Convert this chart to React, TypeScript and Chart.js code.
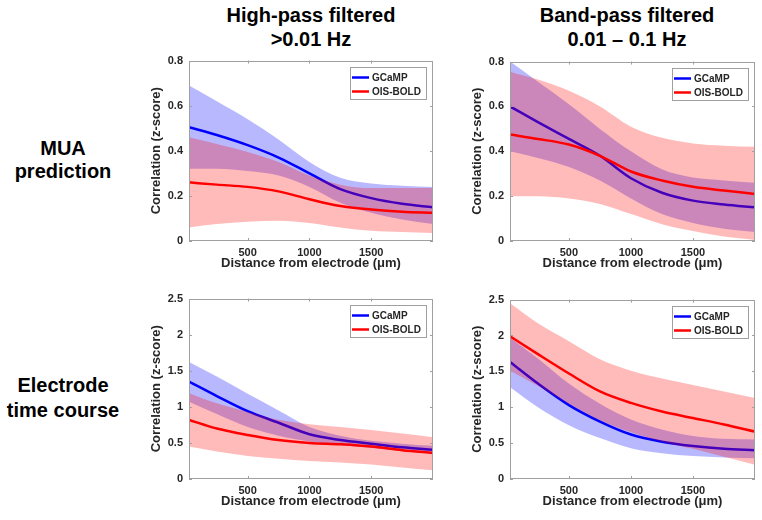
import React, { useEffect, useRef } from "react";
import { Chart, registerables } from "chart.js";

Chart.register(...registerables);

// ---------------- data ----------------
const distances = [25, 250, 500, 750, 1000, 1250, 1500, 1750, 2000];
const xTicks = [500, 1000, 1500];
const muaYTicks = [0, 0.2, 0.4, 0.6, 0.8];
const electrodeYTicks = [0, 0.5, 1, 1.5, 2, 2.5];
const seriesNames = ["GCaMP", "OIS-BOLD"];
const columnTitles = [["High-pass filtered", ">0.01 Hz"], ["Band-pass filtered", "0.01 \u2013 0.1 Hz"]];
const rowLabels = [["MUA", "prediction"], ["Electrode", "time course"]];
const yTitle = "Correlation (z-score)";
const xTitle = "Distance from electrode (\u03bcm)";

// MUA prediction, high-pass
const hpMuaGcamp = [0.505, 0.47, 0.425, 0.37, 0.3, 0.23, 0.19, 0.165, 0.15];
const hpMuaGcampUpper = [0.69, 0.62, 0.54, 0.45, 0.35, 0.28, 0.255, 0.245, 0.24];
const hpMuaGcampLower = [0.32, 0.32, 0.31, 0.29, 0.24, 0.17, 0.125, 0.095, 0.075];
const hpMuaBold = [0.26, 0.25, 0.24, 0.22, 0.185, 0.155, 0.14, 0.13, 0.125];
const hpMuaBoldUpper = [0.46, 0.43, 0.395, 0.35, 0.29, 0.25, 0.235, 0.235, 0.235];
const hpMuaBoldLower = [0.06, 0.075, 0.085, 0.09, 0.08, 0.06, 0.045, 0.04, 0.035];

// MUA prediction, band-pass
const bpMuaGcamp = [0.6, 0.53, 0.455, 0.38, 0.28, 0.215, 0.18, 0.163, 0.15];
const bpMuaGcampUpper = [0.8, 0.71, 0.61, 0.5, 0.4, 0.32, 0.283, 0.27, 0.26];
const bpMuaGcampLower = [0.4, 0.37, 0.33, 0.27, 0.19, 0.12, 0.08, 0.055, 0.04];
const bpMuaBold = [0.475, 0.455, 0.43, 0.38, 0.31, 0.27, 0.242, 0.225, 0.21];
const bpMuaBoldUpper = [0.755, 0.72, 0.67, 0.6, 0.51, 0.46, 0.435, 0.425, 0.42];
const bpMuaBoldLower = [0.2, 0.2, 0.19, 0.165, 0.12, 0.075, 0.045, 0.02, 0.005];

// Electrode time course, high-pass
const hpElGcamp = [1.35, 1.15, 0.94, 0.78, 0.62, 0.54, 0.49, 0.44, 0.405];
const hpElGcampUpper = [1.62, 1.42, 1.18, 0.95, 0.72, 0.6, 0.53, 0.49, 0.46];
const hpElGcampLower = [1.07, 0.9, 0.72, 0.6, 0.52, 0.47, 0.43, 0.39, 0.35];
const hpElBold = [0.82, 0.7, 0.61, 0.54, 0.5, 0.48, 0.45, 0.4, 0.36];
const hpElBoldUpper = [1.19, 1.05, 0.93, 0.82, 0.76, 0.72, 0.68, 0.63, 0.58];
const hpElBoldLower = [0.45, 0.38, 0.32, 0.28, 0.25, 0.23, 0.2, 0.16, 0.12];

// Electrode time course, band-pass
const bpElGcamp = [1.63, 1.33, 1.03, 0.8, 0.62, 0.52, 0.46, 0.42, 0.4];
const bpElGcampUpper = [1.97, 1.68, 1.33, 1.05, 0.83, 0.69, 0.6, 0.56, 0.55];
const bpElGcampLower = [1.28, 1.0, 0.75, 0.57, 0.43, 0.36, 0.32, 0.3, 0.29];
const bpElBold = [1.99, 1.74, 1.47, 1.22, 1.06, 0.94, 0.85, 0.76, 0.66];
const bpElBoldUpper = [2.45, 2.17, 1.92, 1.67, 1.51, 1.4, 1.31, 1.22, 1.13];
const bpElBoldLower = [1.51, 1.3, 1.05, 0.82, 0.65, 0.52, 0.42, 0.31, 0.2];

// ---------------- style ----------------
const FONT = "'Liberation Sans', Arial, Helvetica, sans-serif";
const BLUE = "#0000ff";
const RED = "#ff0000";
const BLUE_BAND = "rgba(0,0,255,0.28)";
const RED_BAND = "rgba(255,0,0,0.27)";
const AXIS_GRAY = "#a0a0a0";
const LABEL_COLOR = "#262626";

const pts = (arr: number[]) => distances.map((x, i) => ({ x, y: arr[i] }));

const axisBoxPlugin = {
  id: "axisBox",
  afterDatasetsDraw(chart: any) {
    const { ctx, chartArea } = chart;
    const { left, right, top, bottom } = chartArea;
    const xs = chart.scales.x;
    const ys = chart.scales.y;
    ctx.save();
    ctx.strokeStyle = AXIS_GRAY;
    ctx.lineWidth = 1;
    ctx.strokeRect(Math.round(left) + 0.5, Math.round(top) + 0.5, Math.round(right - left) - 1, Math.round(bottom - top) - 1);
    ctx.beginPath();
    xs.ticks.forEach((t: any) => {
      const px = Math.round(xs.getPixelForValue(t.value)) + 0.5;
      ctx.moveTo(px, bottom);
      ctx.lineTo(px, bottom - 3);
      ctx.moveTo(px, top);
      ctx.lineTo(px, top + 3);
    });
    ys.ticks.forEach((t: any) => {
      const py = Math.round(ys.getPixelForValue(t.value)) + 0.5;
      ctx.moveTo(left, py);
      ctx.lineTo(left + 3, py);
      ctx.moveTo(right, py);
      ctx.lineTo(right - 3, py);
    });
    ctx.stroke();
    ctx.restore();
  },
};

const boxLegendPlugin = {
  id: "boxLegend",
  afterDraw(chart: any) {
    const { ctx, chartArea } = chart;
    const w = 76;
    const h = 32;
    const bx = Math.round(chartArea.right - 7 - w);
    const by = Math.round(chartArea.top + 6);
    ctx.save();
    ctx.fillStyle = "#ffffff";
    ctx.fillRect(bx, by, w, h);
    ctx.strokeStyle = AXIS_GRAY;
    ctx.lineWidth = 1;
    ctx.strokeRect(bx + 0.5, by + 0.5, w, h);
    const items = chart.data.datasets.filter((d: any) => seriesNames.includes(d.label));
    items.forEach((d: any, i: number) => {
      const cy = by + 10.5 + i * 14;
      ctx.strokeStyle = d.borderColor;
      ctx.lineWidth = 2.5;
      ctx.beginPath();
      ctx.moveTo(bx + 2, cy);
      ctx.lineTo(bx + 19, cy);
      ctx.stroke();
      ctx.fillStyle = LABEL_COLOR;
      ctx.font = `bold 10px ${FONT}`;
      ctx.textBaseline = "middle";
      ctx.textAlign = "left";
      ctx.fillText(d.label, bx + 22, cy + 0.5);
    });
    ctx.restore();
  },
};

type PanelProps = {
  plotLeft: number;
  plotTop: number;
  plotRight: number;
  plotBottom: number;
  yMax: number;
  yTicks: number[];
  g: number[];
  gU: number[];
  gL: number[];
  b: number[];
  bU: number[];
  bL: number[];
};

function Panel(p: PanelProps) {
  const ref = useRef<HTMLCanvasElement>(null);
  const padTop = 10;
  const yAxisW = 40;
  const xAxisH = 30;
  const padRight = 6;
  const left = p.plotLeft - yAxisW;
  const top = p.plotTop - padTop;
  const width = p.plotRight - left + padRight;
  const height = p.plotBottom + xAxisH - top;

  useEffect(() => {
    const line = { pointRadius: 0, cubicInterpolationMode: "monotone" as const };
    const chart = new Chart(ref.current!, {
      type: "line",
      data: {
        datasets: [
          { label: "GCaMP upper", data: pts(p.gU), ...line, borderWidth: 0, borderColor: "rgba(0,0,0,0)", backgroundColor: BLUE_BAND, fill: "+1", order: 4 },
          { label: "GCaMP lower", data: pts(p.gL), ...line, borderWidth: 0, borderColor: "rgba(0,0,0,0)", fill: false, order: 4 },
          { label: "GCaMP", data: pts(p.g), ...line, borderWidth: 2.5, borderColor: BLUE, fill: false, order: 3 },
          { label: "OIS-BOLD upper", data: pts(p.bU), ...line, borderWidth: 0, borderColor: "rgba(0,0,0,0)", backgroundColor: RED_BAND, fill: "+1", order: 2 },
          { label: "OIS-BOLD lower", data: pts(p.bL), ...line, borderWidth: 0, borderColor: "rgba(0,0,0,0)", fill: false, order: 2 },
          { label: "OIS-BOLD", data: pts(p.b), ...line, borderWidth: 2.5, borderColor: RED, fill: false, order: 1 },
        ],
      },
      options: {
        responsive: false,
        animation: false,
        events: [],
        layout: { padding: { top: padTop, right: padRight, left: 0, bottom: 0 } },
        plugins: { legend: { display: false }, tooltip: { enabled: false } },
        scales: {
          x: {
            type: "linear",
            min: 25,
            max: 2000,
            afterBuildTicks: (s: any) => {
              s.ticks = xTicks.map((v) => ({ value: v }));
            },
            afterFit: (s: any) => {
              s.height = xAxisH;
            },
            grid: { display: false, drawTicks: false },
            border: { display: false },
            ticks: {
              autoSkip: false,
              maxRotation: 0,
              padding: 5,
              color: LABEL_COLOR,
              font: { family: FONT, size: 11, weight: "bold" },
              callback: (v: any) => String(v),
            },
            title: {
              display: true,
              text: xTitle,
              color: LABEL_COLOR,
              padding: 0,
              font: { family: FONT, size: 13, weight: "bold" },
            },
          },
          y: {
            type: "linear",
            min: 0,
            max: p.yMax,
            afterBuildTicks: (s: any) => {
              s.ticks = p.yTicks.map((v) => ({ value: v }));
            },
            afterFit: (s: any) => {
              s.width = yAxisW;
            },
            grid: { display: false, drawTicks: false },
            border: { display: false },
            ticks: {
              padding: 6,
              color: LABEL_COLOR,
              font: { family: FONT, size: 11, weight: "bold" },
              callback: (v: any) => String(v),
            },
            title: {
              display: true,
              text: yTitle,
              color: LABEL_COLOR,
              padding: 0,
              font: { family: FONT, size: 13, weight: "bold" },
            },
          },
        },
      },
      plugins: [axisBoxPlugin, boxLegendPlugin],
    } as any);
    return () => chart.destroy();
  }, []);

  return (
    <canvas
      ref={ref}
      width={width}
      height={height}
      style={{ position: "absolute", left, top, width, height }}
    />
  );
}

function TextLine({ text, cx, baseline, size }: { text: string; cx: number; baseline: number; size: number }) {
  return (
    <div
      style={{
        position: "absolute",
        left: cx - 150,
        width: 300,
        top: baseline - 0.8465 * size,
        fontFamily: FONT,
        fontWeight: "bold",
        fontSize: size,
        lineHeight: `${size}px`,
        textAlign: "center",
        whiteSpace: "nowrap",
        color: "#000",
      }}
    >
      {text}
    </div>
  );
}

export default function App() {
  return (
    <div style={{ position: "absolute", left: 0, top: 0, width: 762, height: 520, background: "#fff", overflow: "hidden" }}>
      <TextLine text={columnTitles[0][0]} cx={311} baseline={22} size={20} />
      <TextLine text={columnTitles[0][1]} cx={311} baseline={45.5} size={20} />
      <TextLine text={columnTitles[1][0]} cx={627} baseline={22} size={20} />
      <TextLine text={columnTitles[1][1]} cx={627} baseline={45.5} size={20} />
      <TextLine text={rowLabels[0][0]} cx={63} baseline={155} size={20} />
      <TextLine text={rowLabels[0][1]} cx={63} baseline={178} size={20} />
      <TextLine text={rowLabels[1][0]} cx={63} baseline={392} size={20} />
      <TextLine text={rowLabels[1][1]} cx={63} baseline={417} size={20} />
      <Panel plotLeft={189} plotTop={58} plotRight={433} plotBottom={241} yMax={0.8} yTicks={muaYTicks}
        g={hpMuaGcamp} gU={hpMuaGcampUpper} gL={hpMuaGcampLower} b={hpMuaBold} bU={hpMuaBoldUpper} bL={hpMuaBoldLower} />
      <Panel plotLeft={510} plotTop={59} plotRight={755} plotBottom={241} yMax={0.8} yTicks={muaYTicks}
        g={bpMuaGcamp} gU={bpMuaGcampUpper} gL={bpMuaGcampLower} b={bpMuaBold} bU={bpMuaBoldUpper} bL={bpMuaBoldLower} />
      <Panel plotLeft={189} plotTop={296} plotRight={433} plotBottom={479} yMax={2.5} yTicks={electrodeYTicks}
        g={hpElGcamp} gU={hpElGcampUpper} gL={hpElGcampLower} b={hpElBold} bU={hpElBoldUpper} bL={hpElBoldLower} />
      <Panel plotLeft={510} plotTop={297} plotRight={755} plotBottom={479} yMax={2.5} yTicks={electrodeYTicks}
        g={bpElGcamp} gU={bpElGcampUpper} gL={bpElGcampLower} b={bpElBold} bU={bpElBoldUpper} bL={bpElBoldLower} />
    </div>
  );
}
